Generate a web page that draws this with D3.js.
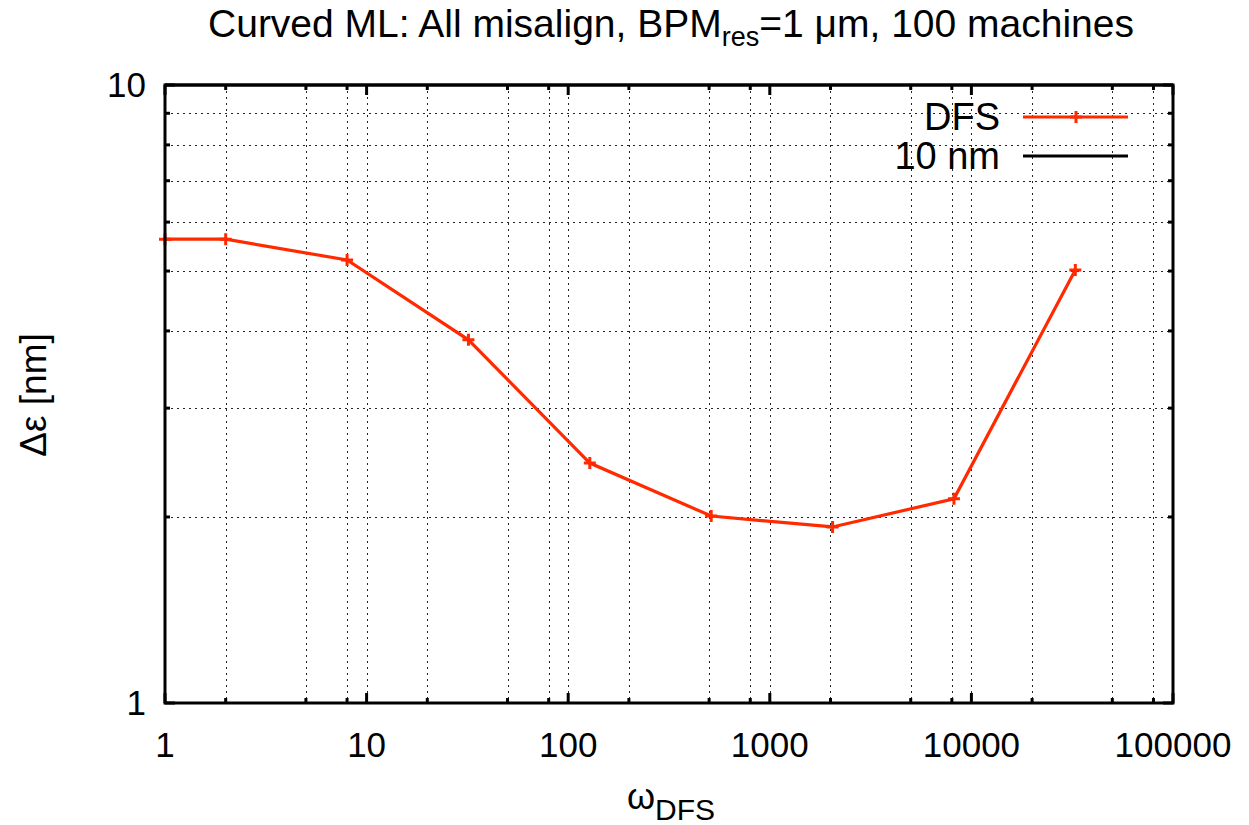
<!DOCTYPE html>
<html>
<head>
<meta charset="utf-8">
<script src="https://cdn.jsdelivr.net/npm/d3@7"></script>
<style>
  body { margin: 0; background: #fff; }
  text { font-family: "Liberation Sans", Arial, sans-serif; fill: #000; }
</style>
</head>
<body>
<script>
// data
var omega = [1, 2, 8, 32, 128, 512, 2048, 8192, 32768];
var dfs = [5.63, 5.63, 5.21, 3.87, 2.445, 2.007, 1.927, 2.14, 5.02];
var limit = 10;
var xMajor = [1, 10, 100, 1000, 10000, 100000];
var xMinorMult = [2, 5, 8];
var yMajor = [1, 10];
var yMinorMult = [2, 3, 4, 5, 6, 7, 8, 9];

var w = 1249, h = 825;
var pLeft = 165, pRight = 1173, pTop = 85, pBottom = 703;
var red = "#ff2a00";

var svg = d3.select("body").append("svg")
    .attr("width", w)
    .attr("height", h);

var x = d3.scaleLog().domain([1, 100000]).range([pLeft, pRight]);
var y = d3.scaleLog().domain([1, 10]).range([pBottom, pTop]);

var xMinor = [];
xMajor.slice(0, -1).forEach(function(d) {
  xMinorMult.forEach(function(m) { xMinor.push(d * m); });
});
var yMinor = yMinorMult.slice();

// grid
var grid = svg.append("g")
    .attr("stroke", "#000")
    .attr("stroke-width", 1)
    .attr("stroke-dasharray", "2,4")
    .attr("opacity", 0.85);

grid.selectAll(".gx")
  .data(xMinor.concat(xMajor.slice(1, -1)))
  .enter().append("line")
    .attr("x1", function(d) { return Math.round(x(d)) + 0.5; })
    .attr("x2", function(d) { return Math.round(x(d)) + 0.5; })
    .attr("y1", pTop)
    .attr("y2", pBottom);

grid.selectAll(".gy")
  .data(yMinor)
  .enter().append("line")
    .attr("y1", function(d) { return Math.round(y(d)) + 0.5; })
    .attr("y2", function(d) { return Math.round(y(d)) + 0.5; })
    .attr("x1", pLeft)
    .attr("x2", pRight);

// ticks, inward on all four sides
function tickLen(major) { return major ? 10 : 5; }
var ticks = svg.append("g").attr("stroke", "#000").attr("stroke-width", 3);

xMajor.map(function(d) { return {v: d, m: true}; })
  .concat(xMinor.map(function(d) { return {v: d, m: false}; }))
  .forEach(function(t) {
    var px = x(t.v);
    ticks.append("line").attr("x1", px).attr("x2", px)
      .attr("y1", pBottom).attr("y2", pBottom - tickLen(t.m));
    ticks.append("line").attr("x1", px).attr("x2", px)
      .attr("y1", pTop).attr("y2", pTop + tickLen(t.m));
  });

yMajor.map(function(d) { return {v: d, m: true}; })
  .concat(yMinor.map(function(d) { return {v: d, m: false}; }))
  .forEach(function(t) {
    var py = y(t.v);
    ticks.append("line").attr("y1", py).attr("y2", py)
      .attr("x1", pLeft).attr("x2", pLeft + tickLen(t.m));
    ticks.append("line").attr("y1", py).attr("y2", py)
      .attr("x1", pRight).attr("x2", pRight - tickLen(t.m));
  });

// tick labels
svg.selectAll(".xl")
  .data(xMajor)
  .enter().append("text")
    .attr("x", function(d) { return x(d); })
    .attr("y", 757)
    .attr("text-anchor", "middle")
    .attr("font-size", 35)
    .text(function(d) { return d; });

svg.selectAll(".yl")
  .data(yMajor)
  .enter().append("text")
    .attr("x", 146)
    .attr("y", function(d) { return y(d) + 12; })
    .attr("text-anchor", "end")
    .attr("font-size", 35)
    .text(function(d) { return d; });

// series
var line = d3.line()
    .x(function(d) { return x(d[0]); })
    .y(function(d) { return y(d[1]); });

var pts = omega.map(function(d, i) { return [d, dfs[i]]; });

svg.append("path")
    .datum([[1, limit], [100000, limit]])
    .attr("d", line)
    .attr("fill", "none")
    .attr("stroke", "#000")
    .attr("stroke-width", 3);

svg.append("path")
    .datum(pts)
    .attr("d", line)
    .attr("fill", "none")
    .attr("stroke", red)
    .attr("stroke-width", 3.2);

function plus(g, px, py) {
  g.append("path")
    .attr("d", "M" + (px - 6) + "," + py + "H" + (px + 6) + "M" + px + "," + (py - 6) + "V" + (py + 6))
    .attr("stroke", red)
    .attr("stroke-width", 3);
}
var marks = svg.append("g");
pts.forEach(function(d) { plus(marks, x(d[0]), y(d[1])); });

// border
svg.append("rect")
    .attr("x", pLeft).attr("y", pTop)
    .attr("width", pRight - pLeft).attr("height", pBottom - pTop)
    .attr("fill", "none")
    .attr("stroke", "#000")
    .attr("stroke-width", 3);

// legend
var legend = [
  {name: "DFS", color: red, mark: true},
  {name: "10 nm", color: "#000", mark: false}
];
legend.forEach(function(d, i) {
  var ly = 117 + i * 39;
  svg.append("text")
    .attr("x", 1000).attr("y", ly + 13)
    .attr("text-anchor", "end")
    .attr("font-size", 38)
    .text(d.name);
  svg.append("line")
    .attr("x1", 1023).attr("x2", 1128)
    .attr("y1", ly).attr("y2", ly)
    .attr("stroke", d.color)
    .attr("stroke-width", 3);
  if (d.mark) plus(svg, 1076, ly);
});

// title
var title = svg.append("text")
    .attr("x", 671).attr("y", 37)
    .attr("text-anchor", "middle")
    .attr("font-size", 39);
title.append("tspan").text("Curved ML: All misalign, BPM");
title.append("tspan").attr("font-size", 27).attr("dy", 9).text("res");
title.append("tspan").attr("dy", -9).text("=1 \u03bcm, 100 machines");

// axis titles
var xt = svg.append("text")
    .attr("x", 671).attr("y", 809)
    .attr("text-anchor", "middle")
    .attr("font-size", 36);
xt.append("tspan").text("\u03c9");
xt.append("tspan").attr("font-size", 30).attr("dy", 11).text("DFS");

svg.append("text")
    .attr("transform", "translate(46,395) rotate(-90)")
    .attr("text-anchor", "middle")
    .attr("font-size", 37)
    .text("\u0394\u03b5 [nm]");
</script>
</body>
</html>
